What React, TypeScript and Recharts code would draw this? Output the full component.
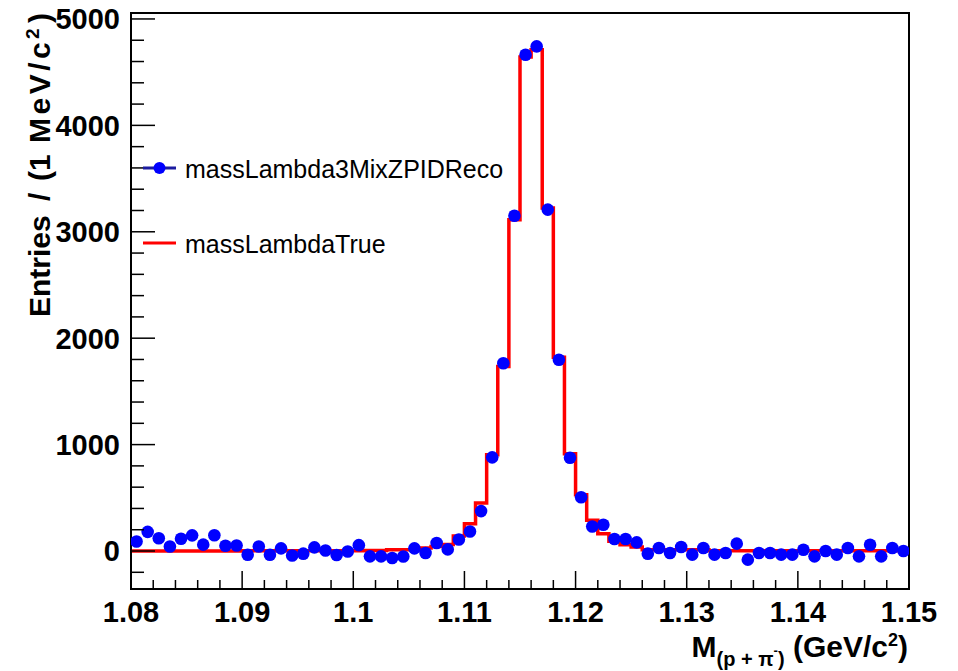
import React from 'react';
import { ComposedChart, Line, XAxis, YAxis, ReferenceArea } from 'recharts';

// 1 MeV bins from 1.08 to 1.15 GeV/c^2
const binLow = 1.08;
const binWidth = 0.001;

const recoCounts = [
  90, 180, 120, 43, 115, 147, 60, 148, 50, 52,
  -35, 43, -35, 25, -42, -25, 34, 5, -38, -4,
  55, -50, -50, -65, -52, 25, -19, 75, 15, 108,
  184, 375, 880, 1765, 3150, 4664, 4742, 3208, 1798, 876,
  505, 231, 247, 113, 113, 81, -25, 28, -19, 37,
  -34, 28, -34, -19, 69, -81, -19, -19, -34, -34,
  12, -50, 0, -34, 28, -50, 59, -50, 28, 0,
];

const trueCounts = [
  0, 0, 0, 0, 0, 0, 0, 0, 0, 0,
  2, 2, 2, 2, 2, 2, 2, 2, 2, 3,
  3, 4, 5, 12, 12, 12, 28, 43, 62, 140,
  257, 451, 905, 1735, 3114, 4643, 4710, 3224, 1820, 914,
  529, 288, 163, 91, 59, 37, 12, 12, 12, 12,
  12, 12, 3, 3, 3, 3, 3, 3, 3, 3,
  3, 3, 3, 3, 3, 3, 3, 3, 3, 3,
];

const xMajorTicks = [1.08, 1.09, 1.1, 1.11, 1.12, 1.13, 1.14, 1.15];
const xTickLabels = ['1.08', '1.09', '1.1', '1.11', '1.12', '1.13', '1.14', '1.15'];
const yMajorTicks = [0, 1000, 2000, 3000, 4000, 5000];
const yDomain = [-357, 5056];

const legendItems = [
  { name: 'massLambda3MixZPIDReco', color: '#0000ff', line: '#1c1ca0', marker: true },
  { name: 'massLambdaTrue', color: '#ff0000', line: '#ff0000', marker: false },
];

const FONT = "'Liberation Sans', Arial, Helvetica, sans-serif";

const r4 = (v: number) => Math.round(v * 10000) / 10000;

const recoPoints = recoCounts.map((c, i) => ({ x: r4(binLow + (i + 0.5) * binWidth), count: c }));
const trueSteps = trueCounts
  .map((c, i) => ({ x: r4(binLow + i * binWidth), count: c }))
  .concat([{ x: 1.15, count: trueCounts[trueCounts.length - 1] }]);

// minor ticks: 5 subdivisions on x, 200 steps on y
const xTicks: number[] = [];
for (let k = 0; k <= 35; k++) xTicks.push(r4(1.08 + k * 0.002));
const yTicks: number[] = [];
for (let v = -200; v <= 5000; v += 200) yTicks.push(v);

function XTick({ x, y, payload }: any) {
  const milli = Math.round(payload.value * 1000);
  const idx = xMajorTicks.findIndex((t) => Math.round(t * 1000) === milli);
  const major = idx >= 0;
  return (
    <g>
      <line x1={x} x2={x} y1={y} y2={y - (major ? 18 : 9)} stroke="#000" strokeWidth={1.5} />
      {major && (
        <text x={x} y={y + 33} textAnchor="middle" fontFamily={FONT} fontWeight="bold" fontSize={29} fill="#000">
          {xTickLabels[idx]}
        </text>
      )}
    </g>
  );
}

function YTick({ x, y, payload }: any) {
  const v = payload.value;
  const major = yMajorTicks.includes(v);
  return (
    <g>
      <line x1={x} x2={x + (major ? 24 : 13)} y1={y} y2={y} stroke="#000" strokeWidth={1.5} />
      {major && (
        <text x={x - 11} y={y} dy="0.36em" textAnchor="end" fontFamily={FONT} fontWeight="bold" fontSize={29} fill="#000">
          {v}
        </text>
      )}
    </g>
  );
}

function XTitle() {
  return (
    <text x={908} y={657} textAnchor="end" fontFamily={FONT} fontWeight="bold" fontSize={30} fill="#000">
      M
      <tspan fontSize={20} dy={9}>(p + π</tspan>
      <tspan fontSize={13} dy={-11}>-</tspan>
      <tspan fontSize={20} dy={11}>)</tspan>
      <tspan fontSize={30} dy={-9}> (GeV/c</tspan>
      <tspan fontSize={18} dy={-11}>2</tspan>
      <tspan fontSize={30} dy={11}>)</tspan>
    </text>
  );
}

// rotated frame: x' = -screen y
function YTitle() {
  return (
    <text transform="translate(50,0) rotate(-90)" fontFamily={FONT} fontWeight="bold" fontSize={30} fill="#000">
      <tspan x={-317}>Entries</tspan>
      <tspan x={-201}>/</tspan>
      <tspan x={-181}>(1</tspan>
      <tspan x={-143} letterSpacing={3.5}>MeV/c</tspan>
      <tspan x={-39} dy={-11} fontSize={19}>2</tspan>
      <tspan x={-23} dy={11}>)</tspan>
    </text>
  );
}

function RecoMarker({ cx, cy, index }: any) {
  if (cx == null || cy == null) return <g key={index} />;
  return <circle key={index} cx={cx} cy={cy} r={6.3} fill="#0000ff" />;
}

function LegendBox() {
  const rows = [168, 243];
  return (
    <svg width={958} height={671} style={{ position: 'absolute', left: 0, top: 0, pointerEvents: 'none' }}>
      {legendItems.map((item, i) => (
        <g key={item.name}>
          <line x1={143} x2={176} y1={rows[i]} y2={rows[i]} stroke={item.line} strokeWidth={3} />
          {item.marker && <circle cx={159.5} cy={rows[i]} r={6} fill={item.color} />}
          <text x={185} y={rows[i] + 10} fontFamily={FONT} fontSize={25} fill="#000">
            {item.name}
          </text>
        </g>
      ))}
    </svg>
  );
}

export default function App() {
  return (
    <div style={{ position: 'absolute', left: 0, top: 0, width: 958, height: 671, background: '#fff' }}>
      <ComposedChart
        width={958}
        height={671}
        data={trueSteps}
        margin={{ top: 13, right: 49, left: 0, bottom: 0 }}
      >
        <XAxis
          dataKey="x"
          type="number"
          domain={[1.08, 1.15]}
          ticks={xTicks}
          interval={0}
          tickSize={0}
          tickMargin={0}
          tick={<XTick />}
          height={82}
          axisLine={{ stroke: '#000', strokeWidth: 2 }}
          allowDataOverflow
          label={<XTitle />}
        />
        <YAxis
          type="number"
          domain={yDomain}
          ticks={yTicks}
          interval={0}
          tickSize={0}
          tickMargin={0}
          tick={<YTick />}
          width={131}
          axisLine={{ stroke: '#000', strokeWidth: 2 }}
          allowDataOverflow
          label={<YTitle />}
        />
        <Line
          data={recoPoints}
          dataKey="count"
          stroke="none"
          dot={<RecoMarker />}
          activeDot={false}
          isAnimationActive={false}
        />
        <Line
          type="stepAfter"
          dataKey="count"
          stroke="#ff0000"
          strokeWidth={3.5}
          dot={false}
          activeDot={false}
          isAnimationActive={false}
        />
        <ReferenceArea
          x1={1.08}
          x2={1.15}
          y1={yDomain[0]}
          y2={yDomain[1]}
          fill="none"
          stroke="#000"
          strokeWidth={2}
          ifOverflow="visible"
        />
      </ComposedChart>
      <LegendBox />
    </div>
  );
}
